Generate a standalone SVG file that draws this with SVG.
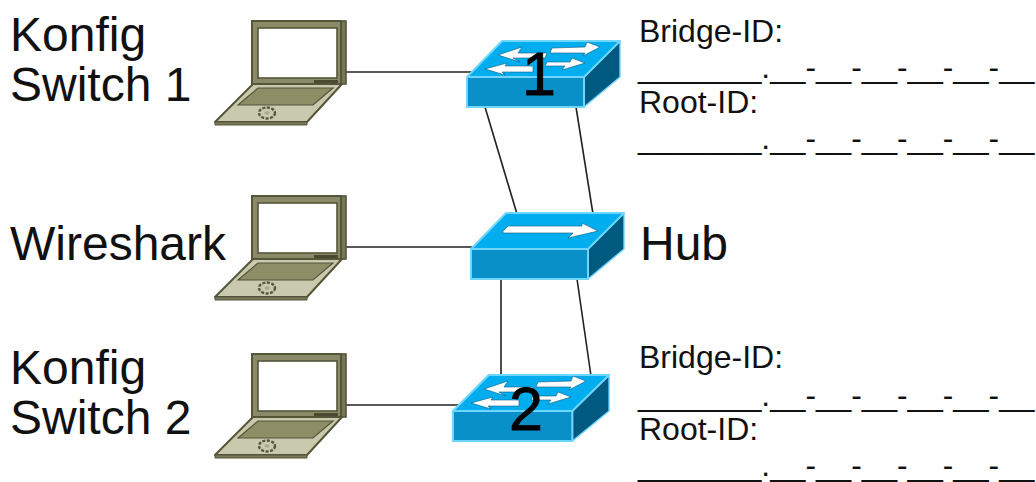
<svg xmlns="http://www.w3.org/2000/svg" width="1036" height="482" viewBox="0 0 1036 482">
<style>
text{font-family:"Liberation Sans",Arial,sans-serif;fill:#111}
.big{font-size:48px}
.small{font-size:32px}
.blank{font-size:31.7px}
.num{font-size:61px;fill:#000;stroke:#000;stroke-width:.8}
.link{stroke:#222;stroke-width:1.6;fill:none}
.top{fill:#00aeef;stroke:#6fd6ff;stroke-width:2;stroke-linejoin:round}
.front{fill:#0a90c8;stroke:#6fd6ff;stroke-width:2}
.side{fill:#005a80;stroke:#6fd6ff;stroke-width:1.4;stroke-linejoin:round}
.arrow{fill:#fff;stroke:#0a5a80;stroke-width:.6}
.frame{fill:#8a8a68;stroke:#55553a;stroke-width:2}
.lid{fill:#76765a;stroke:#55553a;stroke-width:1.6}
.screen{fill:#fff;stroke:#55553a;stroke-width:1.6}
.base{fill:#c9c9ae;stroke:#55553a;stroke-width:2;stroke-linejoin:round}
.keys{fill:#8e8e66;stroke:#55553a;stroke-width:1.2}
.edge{fill:#7a7a58;stroke:#55553a;stroke-width:1}
.gear{fill:none;stroke:#55553a;stroke-width:2.4;stroke-dasharray:3 1.5}
</style>
<defs>
<g id="laptop">
<rect class="lid" x="4" y="0" width="90" height="63"/>
<rect class="frame" x="0" y="0" width="89" height="63"/>
<rect class="screen" x="6" y="7" width="79" height="50"/>
<rect x="62" y="59" width="24" height="3" fill="#4a4a30"/>
<polygon class="base" points="1,63 90,63 55,101 -37,101"/>
<polygon class="keys" points="6,67 81,67 61,84 -14,84"/>
<polygon class="edge" points="-37,101 55,101 55,104 -37,104"/>
<ellipse class="gear" cx="15" cy="92" rx="8" ry="5.5"/>
<ellipse cx="15" cy="92" rx="2.5" ry="1.8" fill="#a8a88c"/>
</g>
<g id="switchBody">
<polygon class="side" points="117,37 153,1 153,37 117,67"/>
<rect class="front" x="0" y="37" width="117" height="30"/>
<polygon class="top" points="35,1 153,1 117,37 0,37"/>
</g>
<g id="switchArrows">
<polygon class="arrow" points="31,15 55,7 51,13 80,13 78,18 46,18 53,22"/>
<polygon class="arrow" points="85,8 118,7 120,2 133,7 116,16 118,13 83,13"/>
<polygon class="arrow" points="18,29 40,23 38,26 66,26 66,32 35,32 38,35"/>
<polygon class="arrow" points="80,22 103,22 105,18 118,23 95,30 98,26 78,26"/>
</g>
</defs>
<g id="connectors">
<line class="link" x1="346" y1="72" x2="472" y2="72"/>
<line class="link" x1="346" y1="247" x2="476" y2="247"/>
<line class="link" x1="346" y1="405" x2="460" y2="405"/>
<line class="link" x1="485" y1="107" x2="517" y2="214"/>
<line class="link" x1="576" y1="107" x2="593" y2="214"/>
<line class="link" x1="501" y1="279" x2="501" y2="376"/>
<line class="link" x1="577" y1="279" x2="591" y2="376"/>
</g>
<g id="laptop1"><use href="#laptop" x="252" y="21"/></g>
<g id="laptop2"><use href="#laptop" x="252" y="196"/></g>
<g id="laptop3"><use href="#laptop" x="252" y="354"/></g>
<g id="switch1">
<use href="#switchBody" x="467" y="40"/><use href="#switchArrows" x="467" y="40"/>
<text class="num" x="539" y="95" text-anchor="middle">1</text>
</g>
<g id="hub">
<use href="#switchBody" x="471" y="212"/>
<polygon class="arrow" transform="translate(471,212)" points="32,19 37,14 111,14 111,11 127,19 97,26 102,21 32,21"/>
</g>
<g id="switch2">
<use href="#switchBody" transform="translate(453,374) scale(1.02,1)"/><use href="#switchArrows" x="453" y="374"/>
<text class="num" x="526" y="430" text-anchor="middle">2</text>
</g>
<g id="labels">
<text class="big" x="10" y="51">Konfig</text>
<text class="big" x="10" y="101">Switch 1</text>
<text class="big" x="10" y="260">Wireshark</text>
<text class="big" x="10" y="384">Konfig</text>
<text class="big" x="10" y="434">Switch 2</text>
<text class="big" x="640" y="260">Hub</text>
<text class="small" x="639" y="42">Bridge-ID:</text>
<text class="blank" x="638" y="78">_______.__-__-__-__-__-__</text>
<text class="small" x="639" y="113">Root-ID:</text>
<text class="blank" x="638" y="149">_______.__-__-__-__-__-__</text>
<text class="small" x="639" y="368">Bridge-ID:</text>
<text class="blank" x="638" y="406">_______.__-__-__-__-__-__</text>
<text class="small" x="639" y="440">Root-ID:</text>
<text class="blank" x="638" y="476">_______.__-__-__-__-__-__</text>
</g>
</svg>
